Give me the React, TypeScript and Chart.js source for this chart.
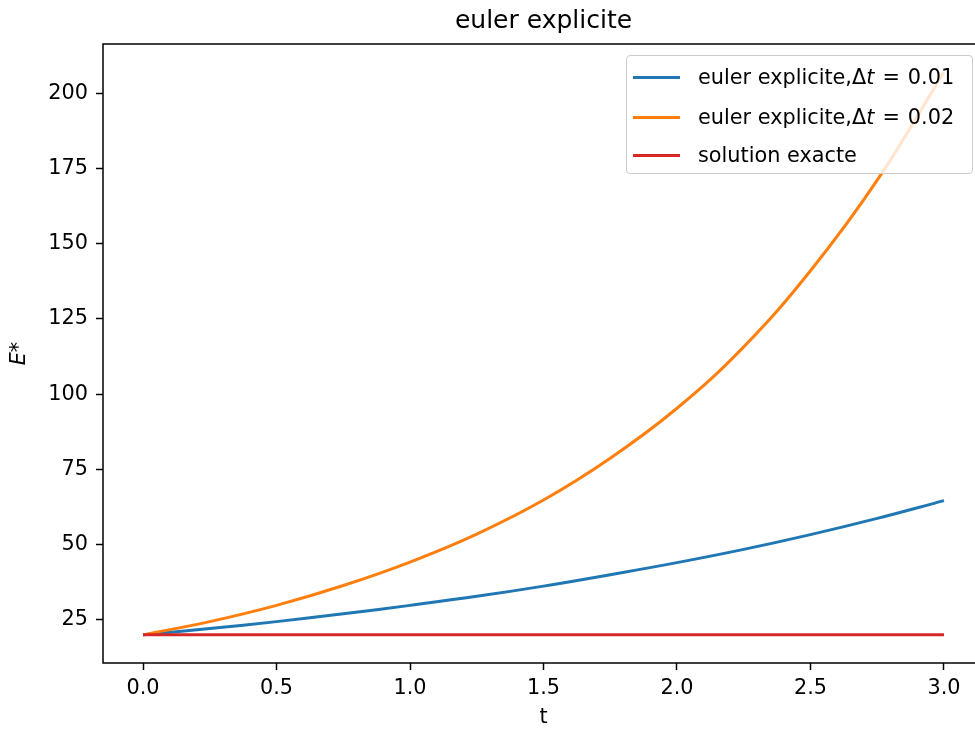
import React, { useEffect, useRef } from 'react';
import { Chart, registerables } from 'chart.js';

Chart.register(...registerables);

// ---- data ----
const T = [0, 0.25, 0.5, 0.75, 1, 1.25, 1.5, 1.75, 2, 2.25, 2.5, 2.75, 3];
const EULER_DT001 = [20, 22.1, 24.4, 27.0, 29.8, 32.8, 36.2, 40.0, 44.0, 48.4, 53.3, 58.7, 64.6];
const EULER_DT002 = [20, 24.4, 29.8, 36.4, 44.2, 53.5, 64.8, 78.7, 95.3, 115.7, 141.0, 171.1, 207.0];
const EXACT = [20, 20, 20, 20, 20, 20, 20, 20, 20, 20, 20, 20, 20];

const X_TICKS = [0, 0.5, 1, 1.5, 2, 2.5, 3];
const Y_TICKS = [25, 50, 75, 100, 125, 150, 175, 200];
const X_RANGE = [-0.15, 3.15];
const Y_RANGE = [10.65, 216.35];

const TITLE = 'euler explicite';
const X_LABEL = 't';
const Y_LABEL = 'E*';
const SERIES_NAMES = ['euler explicite,', 'euler explicite,', 'solution exacte'];
const SERIES_DT = ['0.01', '0.02', ''];
const COLORS = ['#1f77b4', '#ff7f0e', '#d62728'];

const FONT = '"DejaVu Sans", sans-serif';

const framePlugin = {
  id: 'frameAndTitle',
  afterDraw(chart: any) {
    const { ctx, chartArea: a } = chart;
    ctx.save();
    ctx.strokeStyle = '#000';
    ctx.lineWidth = 1.5;
    ctx.strokeRect(a.left, a.top, a.right - a.left, a.bottom - a.top);
    ctx.font = `25px ${FONT}`;
    ctx.fillStyle = '#000';
    ctx.textAlign = 'center';
    ctx.textBaseline = 'alphabetic';
    ctx.fillText(TITLE, (a.left + a.right) / 2, a.top - 16);
    ctx.restore();
  },
};

export default function App() {
  const ref = useRef<HTMLCanvasElement | null>(null);

  useEffect(() => {
    if (!ref.current) return;
    const series = [EULER_DT001, EULER_DT002, EXACT];
    const chart = new Chart(ref.current, {
      type: 'line',
      data: {
        datasets: series.map((vals, i) => ({
          label: SERIES_NAMES[i] + (SERIES_DT[i] ? 'Δt = ' + SERIES_DT[i] : ''),
          data: T.map((t, j) => ({ x: t, y: vals[j] })),
          borderColor: COLORS[i],
          backgroundColor: COLORS[i],
          borderWidth: 3,
          pointRadius: 0,
          fill: false,
          tension: 0.4,
          order: 3 - i,
        })),
      },
      options: {
        animation: false,
        responsive: true,
        maintainAspectRatio: false,
        layout: { padding: { top: 44, right: 1, bottom: 0, left: 0 } },
        plugins: {
          legend: { display: false },
          title: { display: false },
          tooltip: { enabled: false },
        },
        scales: {
          x: {
            type: 'linear',
            min: X_RANGE[0],
            max: X_RANGE[1],
            afterBuildTicks: (s: any) => {
              s.ticks = X_TICKS.map((v) => ({ value: v }));
            },
            afterFit: (s: any) => {
              s.height = 67;
            },
            ticks: {
              font: { family: FONT, size: 20.8 },
              color: '#000',
              padding: 6,
              maxRotation: 0,
              callback: (v: any) => Number(v).toFixed(1),
            },
            grid: { drawOnChartArea: false, tickLength: 7, tickWidth: 1.5, tickColor: '#000', color: '#000' },
            border: { display: false },
            title: {
              display: true,
              text: X_LABEL,
              font: { family: FONT, size: 20.8 },
              color: '#000',
              padding: { top: 0, bottom: 0 },
            },
          },
          y: {
            type: 'linear',
            min: Y_RANGE[0],
            max: Y_RANGE[1],
            afterBuildTicks: (s: any) => {
              s.ticks = Y_TICKS.map((v) => ({ value: v }));
            },
            afterFit: (s: any) => {
              s.width = 103;
            },
            ticks: {
              font: { family: FONT, size: 20.8 },
              color: '#000',
              padding: 8,
              callback: (v: any) => String(v),
            },
            grid: { drawOnChartArea: false, tickLength: 7, tickWidth: 1.5, tickColor: '#000', color: '#000' },
            border: { display: false },
            title: {
              display: true,
              text: Y_LABEL,
              font: { family: FONT, size: 20.8, style: 'italic' },
              color: '#000',
              padding: { top: 7, bottom: 0 },
            },
          },
        },
      },
      plugins: [framePlugin],
    } as any);
    return () => chart.destroy();
  }, []);

  return (
    <div style={{ position: 'absolute', left: 0, top: 0, width: 975, height: 730, overflow: 'hidden', background: '#fff' }}>
      <div style={{ position: 'relative', width: 985, height: 730 }}>
        <canvas ref={ref} />
      </div>
      <div
        style={{
          position: 'absolute',
          left: 626,
          top: 55,
          width: 347,
          height: 119,
          boxSizing: 'border-box',
          border: '1px solid #cccccc',
          borderRadius: 4,
          background: 'rgba(255,255,255,0.8)',
          paddingTop: 1,
          paddingLeft: 6,
          fontFamily: FONT,
          fontSize: 20.8,
          color: '#000',
        }}
      >
        {SERIES_NAMES.map((name, i) => (
          <div
            key={i}
            style={{ display: 'flex', alignItems: 'center', height: i < 2 ? 40 : 36, whiteSpace: 'nowrap' }}
          >
            <span style={{ display: 'inline-block', width: 47, height: 3, background: COLORS[i], marginRight: 18 }} />
            <span>
              {name}
              {SERIES_DT[i] ? (
                <>
                  Δ<i>t</i>
                  <span style={{ margin: '0 8px 0 8px' }}>=</span>
                  {SERIES_DT[i]}
                </>
              ) : null}
            </span>
          </div>
        ))}
      </div>
    </div>
  );
}
